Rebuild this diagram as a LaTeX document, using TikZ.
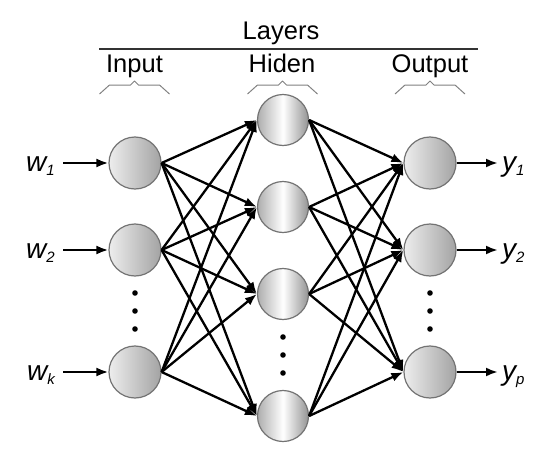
\documentclass[tikz,border=0pt]{standalone}
\usepackage{fontspec}
\setmainfont{Liberation Sans}
\usepackage{xcolor}
\usepackage{tikz}
\usetikzlibrary{arrows.meta,positioning,calc}

\tikzset{
  inout/.style={circle,draw=black!55,line width=1.2pt,minimum size=52pt,inner sep=0pt,
    left color=black!7,right color=black!36},
  hidden/.style={circle,draw=black!55,line width=1.2pt,minimum size=51pt,inner sep=0pt,
    left color=black!32,right color=black!42,middle color=white},
  link/.style={line width=2.3pt,-{Latex[length=12pt,width=9pt]}},
  lab/.style={font=\fontsize{28}{28}\selectfont\itshape,text height=16pt,text depth=0pt,
    inner sep=0pt},
  head/.style={font=\fontsize{25.5}{25.5}\selectfont,inner sep=0pt,anchor=base},
  bracket/.style={draw=black!50,line width=1pt,line join=round}
}
\newcommand{\sublab}[2]{#1\raisebox{-4pt}{\fontsize{15}{15}\selectfont #2}}

\begin{document}
\begin{tikzpicture}[x=1pt,y=-1pt]
  \useasboundingbox (0,0) rectangle (550,455);
  % Layer headings
  \node[head] (layers) at (281,39) {Layers};
  \draw[black!80,line width=1.6pt] (99,49) -- (478,49);
  \node[head] (input) at (134.5,72) {Input};
  \node[head] (hiden) at (282,72) {Hiden};
  \node[head] (output) at (430,72) {Output};
  \foreach \c in {134.5,282.5,430}{
    \draw[bracket] ({\c-35},94) -- ({\c-25},85) -- ({\c-4},85) -- (\c,81)
      -- ({\c+4},85) -- ({\c+25},85) -- ({\c+35},94);
  }
  % Neurons
  \foreach \i/\y in {1/163,2/250,k/372}
    \node[inout] (in\i) at (135,\y) {};
  \foreach \i/\y in {1/120,2/207,3/294,m/416}
    \node[hidden] (hid\i) at (283,\y) {};
  \foreach \i/\y in {1/163,2/250,p/372}
    \node[inout] (out\i) at (430,\y) {};
  % Connections
  \foreach \a in {1,2,k}{
    \foreach \b in {1,2,3,m}
      \draw[link] (in\a.east) -- (hid\b.west);
  }
  \foreach \a in {1,2,3,m}{
    \foreach \b in {1,2,p}
      \draw[link] (hid\a.east) -- (out\b.west);
  }
  % Inputs and outputs
  \foreach \i in {1,2,k}{
    \node[lab,anchor=east,inner xsep=8pt] (w\i) at ($(in\i)+(-72,0)$) {\sublab{w}{\i}};
    \draw[link] (w\i) -- (in\i);
  }
  \foreach \i in {1,2,p}{
    \node[lab,anchor=west,inner xsep=4pt] (y\i) at ($(out\i)+(68,0)$) {\sublab{y}{\i}};
    \draw[link] (out\i) -- (y\i);
  }
  % Dots
  \foreach \y in {293,311,329}{
    \fill (135,\y) circle (2.8);
    \fill (430,\y) circle (2.8);
  }
  \foreach \y in {337,355,373}
    \fill (283,\y) circle (2.8);
\end{tikzpicture}
\end{document}
